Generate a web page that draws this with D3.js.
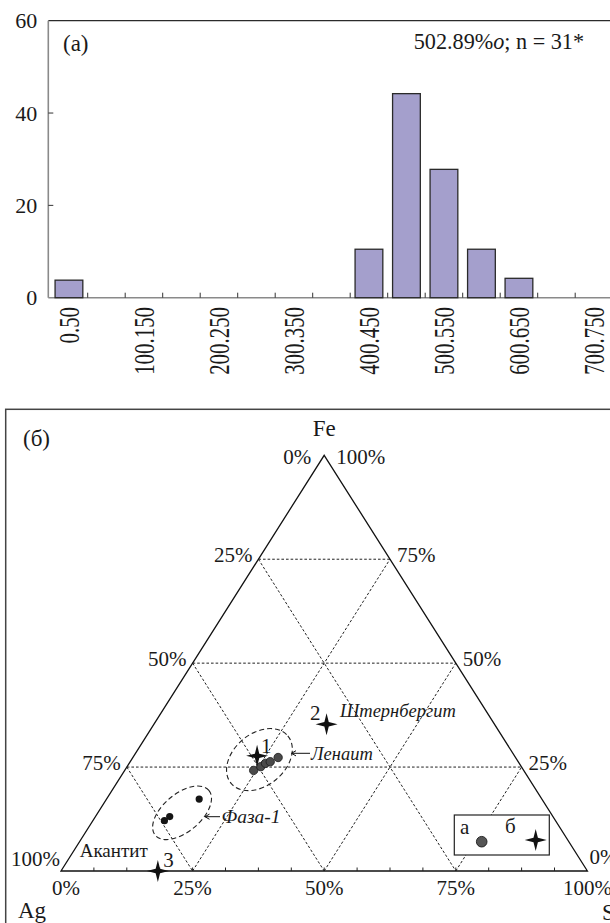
<!DOCTYPE html>
<html>
<head>
<meta charset="utf-8">
<script src="https://cdn.jsdelivr.net/npm/d3@7"></script>
<style>
  body { margin: 0; background: #fff; }
  svg { display: block; }
</style>
</head>
<body>
<svg id="fig" width="610" height="923" font-family="Liberation Serif"></svg>
<script>
// ---------- histogram (a): distribution of values, % of analyses ----------
const binStarts = [0, 50, 100, 150, 200, 250, 300, 350, 400, 450, 500, 550, 600, 650, 700];
const binLabels = binStarts.map(b => `${b}.${b + 50}`);
const binPercent = [3.8, 0, 0, 0, 0, 0, 0, 0, 10.5, 44.2, 27.8, 10.5, 4.2, 0, 0];
const yTicks = [0, 20, 40, 60];
const shownLabels = binLabels.filter((d, i) => i % 2 === 0);
const histNote = ["502.89%", "o", "; n = 31*"];

// ---------- ternary diagram (б): Ag – Fe – S ----------
const sideTicks = [0.25, 0.5, 0.75];
const refMinerals = [           // stars: reference compositions
  { num: "1", ag: 48.9, fe: 27.7, s: 23.4 },
  { num: "2", ag: 31.9, fe: 35.3, s: 32.8 },
  { num: "3", ag: 81.6, fe: 0.0,  s: 18.4 }
];
const lenaitePoints = [
  { ag: 51.3, fe: 24.2, s: 24.5 },
  { ag: 49.5, fe: 25.1, s: 25.4 },
  { ag: 48.2, fe: 25.9, s: 25.9 },
  { ag: 47.1, fe: 26.3, s: 26.6 },
  { ag: 45.1, fe: 27.3, s: 27.6 }
];
const phase1Points = [
  { ag: 65.1, fe: 17.3, s: 17.6 },
  { ag: 72.8, fe: 13.1, s: 14.1 },
  { ag: 74.3, fe: 12.1, s: 13.6 }
];
const groupOutlines = [
  { name: "Ленаит", ag: 48.9, fe: 26.8, s: 24.3, rx: 37, ry: 26, rot: -40 },
  { name: "Фаза-1", ag: 70.0, fe: 14.0, s: 16.0, rx: 35, ry: 19, rot: -40 }
];

const svg = d3.select("#fig");
const ink = "#1a1a1a";
const serif = "Liberation Serif";

// ======================= (a) =======================
const gA = svg.append("g");
const x = d3.scaleBand().domain(binLabels).range([50.2, 50.2 + 37.5 * binLabels.length])
  .paddingInner(0.26).paddingOuter(0.13);
const y = d3.scaleLinear().domain([0, 60]).range([297.7, 20.7]);
const axisX0 = 48.3;

gA.append("line").attr("x1", axisX0).attr("x2", 640).attr("y1", y(60)).attr("y2", y(60))
  .attr("stroke", "#2b2b2b").attr("stroke-width", 1.3);
gA.append("line").attr("x1", axisX0).attr("x2", axisX0).attr("y1", y(60)).attr("y2", y(0))
  .attr("stroke", "#8a8a8a").attr("stroke-width", 1.6);
gA.append("line").attr("x1", axisX0).attr("x2", 640).attr("y1", y(0)).attr("y2", y(0))
  .attr("stroke", "#8a8a8a").attr("stroke-width", 1.6);

// y axis labels
const yAxis = gA.append("g").attr("transform", `translate(${axisX0},0)`)
  .call(d3.axisLeft(y).tickValues(yTicks).tickSize(0).tickPadding(11).tickFormat(d3.format("d")));
yAxis.attr("font-family", serif).attr("font-size", 22);
yAxis.select(".domain").remove();
yAxis.selectAll("text").attr("font-size", 22).attr("fill", ink);
gA.selectAll(".ytick").data(yTicks.filter(d => d > 0 && d < 60)).join("line")
  .attr("x1", axisX0).attr("x2", axisX0 + 5).attr("y1", d => y(d)).attr("y2", d => y(d))
  .attr("stroke", "#333").attr("stroke-width", 1);

// bin boundary ticks
const step = x.step();
const boundaries = binLabels.slice(0, -1).map(d => x(d) + x.bandwidth() + (step - x.bandwidth()) / 2);
gA.selectAll(".xtick").data(boundaries).join("line")
  .attr("x1", d => d).attr("x2", d => d).attr("y1", y(0)).attr("y2", y(0) - 5)
  .attr("stroke", "#333").attr("stroke-width", 1);

// bars
gA.selectAll("rect.bar").data(binLabels.map((l, i) => ({ l, v: binPercent[i] })).filter(d => d.v > 0))
  .join("rect").attr("class", "bar")
  .attr("x", d => x(d.l)).attr("width", x.bandwidth())
  .attr("y", d => y(d.v)).attr("height", d => y(0) - y(d.v))
  .attr("fill", "#a49fcc").attr("stroke", "#2a2a2a").attr("stroke-width", 1.3);

// rotated category labels
gA.selectAll("text.xl").data(shownLabels).join("text").attr("class", "xl")
  .attr("transform", d => `translate(${x(d) + x.bandwidth() / 2},307) rotate(-90) scale(0.72,1)`)
  .attr("text-anchor", "end").attr("dy", "0.35em").attr("font-size", 29).attr("fill", ink)
  .text(d => d);

// panel label and note
gA.append("text").attr("x", 63).attr("y", 51).attr("font-size", 23).attr("fill", ink).text("(a)");
const note = gA.append("text").attr("x", 584).attr("y", 49).attr("font-size", 22.2)
  .attr("text-anchor", "end").attr("fill", ink);
note.append("tspan").text(histNote[0]);
note.append("tspan").attr("font-style", "italic").text(histNote[1]);
note.append("tspan").text(histNote[2]);

// ======================= (б) =======================
const gB = svg.append("g");
gB.append("rect").attr("x", 5.7).attr("y", 409.3).attr("width", 700).attr("height", 600)
  .attr("fill", "none").attr("stroke", "#444").attr("stroke-width", 1.5);

// ternary mapping: Fe sets height, S (plus half of Fe) sets horizontal position
const tY = d3.scaleLinear().domain([0, 1]).range([871, 455.3]);
const tX = d3.scaleLinear().domain([0, 1]).range([61, 587.4]);
const pt = (ag, fe, s) => { const t = ag + fe + s; return [tX((s + fe / 2) / t), tY(fe / t)]; };

const A = pt(1, 0, 0), F = pt(0, 1, 0), S = pt(0, 0, 1);

// dashed grid
const gridLines = [];
sideTicks.forEach(v => {
  gridLines.push([pt(1 - v, v, 0), pt(0, v, 1 - v)]);   // constant Fe
  gridLines.push([pt(v, 1 - v, 0), pt(v, 0, 1 - v)]);   // constant Ag
  gridLines.push([pt(1 - v, 0, v), pt(0, 1 - v, v)]);   // constant S
});
gB.selectAll("line.grid").data(gridLines).join("line").attr("class", "grid")
  .attr("x1", d => d[0][0]).attr("y1", d => d[0][1]).attr("x2", d => d[1][0]).attr("y2", d => d[1][1])
  .attr("stroke", "#222").attr("stroke-width", 1).attr("stroke-dasharray", "2.6,2");

// triangle outline
gB.append("path").attr("d", d3.line()([F, S, A, F]) + "Z")
  .attr("fill", "none").attr("stroke", "#111").attr("stroke-width", 1.3);

// bottom ticks every 1/16
const bottomTicks = d3.range(1, 16).map(k => k / 16);
gB.selectAll("line.bt").data(bottomTicks).join("line").attr("class", "bt")
  .attr("x1", d => pt(1 - d, 0, d)[0]).attr("x2", d => pt(1 - d, 0, d)[0])
  .attr("y1", A[1]).attr("y2", A[1] - 3.5).attr("stroke", "#222").attr("stroke-width", 1);

// side labels
const fs = 21;
const lab = (xx, yy, t, anchor, size) => gB.append("text").attr("x", xx).attr("y", yy)
  .attr("text-anchor", anchor).attr("font-size", size || fs).attr("fill", ink).text(t);
const pct = d3.format(".0%");
lab(F[0] - 13, F[1] + 9, "0%", "end");
sideTicks.forEach(v => { const p = pt(v, 1 - v, 0); lab(p[0] - 6, p[1] + 3, pct(v), "end"); });
lab(A[0] - 1, A[1] - 5, "100%", "end");
lab(F[0] + 12, F[1] + 9, "100%", "start");
sideTicks.forEach(v => { const p = pt(0, v, 1 - v); lab(p[0] + 7, p[1] + 3, pct(v), "start"); });
lab(S[0] + 2, S[1] - 7, "0%", "start");
[0, 0.25, 0.5, 0.75, 1].forEach(v => { const p = pt(1 - v, 0, v); lab(p[0] + (v === 0 ? 5 : 0), 895, pct(v), "middle"); });

// corner names
lab(F[0], 436, "Fe", "middle", 23);
lab(18, 918, "Ag", "start", 23);
lab(602, 920, "S", "start", 23);
lab(23, 446, "(б)", "start", 23);

// four-point star symbol
const star = {
  draw(ctx, size) {
    const r = Math.sqrt(size) / 2, w = r * 0.2;
    ctx.moveTo(0, -r);
    ctx.lineTo(w, -w); ctx.lineTo(r, 0); ctx.lineTo(w, w); ctx.lineTo(0, r);
    ctx.lineTo(-w, w); ctx.lineTo(-r, 0); ctx.lineTo(-w, -w);
    ctx.closePath();
  }
};
const starPath = d3.symbol().type(star).size(22 * 22)();

// group outlines
gB.selectAll("ellipse").data(groupOutlines).join("ellipse")
  .attr("transform", d => { const p = pt(d.ag, d.fe, d.s); return `translate(${p[0]},${p[1]}) rotate(${d.rot})`; })
  .attr("rx", d => d.rx).attr("ry", d => d.ry)
  .attr("fill", "none").attr("stroke", "#222").attr("stroke-width", 1.1).attr("stroke-dasharray", "5,3");

// analyses
gB.selectAll("circle.len").data(lenaitePoints).join("circle").attr("class", "len")
  .attr("cx", d => pt(d.ag, d.fe, d.s)[0]).attr("cy", d => pt(d.ag, d.fe, d.s)[1]).attr("r", 4.2)
  .attr("fill", "#4a4a4a").attr("stroke", "#1a1a1a").attr("stroke-width", 0.8);
gB.selectAll("circle.ph").data(phase1Points).join("circle").attr("class", "ph")
  .attr("cx", d => pt(d.ag, d.fe, d.s)[0]).attr("cy", d => pt(d.ag, d.fe, d.s)[1]).attr("r", 3.6)
  .attr("fill", "#151515");

// reference minerals
gB.selectAll("path.star").data(refMinerals).join("path").attr("class", "star")
  .attr("transform", d => { const p = pt(d.ag, d.fe, d.s); return `translate(${p[0]},${p[1]})`; })
  .attr("d", starPath).attr("fill", "#111");
const numOffsets = { "1": [4, -3, "start"], "2": [-6, -4, "end"], "3": [5.5, -4, "start"] };
gB.selectAll("text.num").data(refMinerals).join("text").attr("class", "num")
  .attr("x", d => pt(d.ag, d.fe, d.s)[0] + numOffsets[d.num][0])
  .attr("y", d => pt(d.ag, d.fe, d.s)[1] + numOffsets[d.num][1])
  .attr("text-anchor", d => numOffsets[d.num][2]).attr("font-size", 21).attr("fill", ink).text(d => d.num);

// names and pointers
const arrow = (x0, x1, yy) => gB.append("path")
  .attr("d", `M${x1},${yy}L${x0},${yy}M${x0 + 4.5},${yy - 2.6}L${x0},${yy}L${x0 + 4.5},${yy + 2.6}`)
  .attr("fill", "none").attr("stroke", "#111").attr("stroke-width", 1);
lab(340, 716.5, "Штернбергит", "start", 18.5).attr("font-style", "italic");
arrow(291.5, 310, 753.3);
lab(311, 759.5, "Ленаит", "start", 18.5).attr("font-style", "italic");
arrow(205, 220, 816.7);
lab(221.5, 822.5, "Фаза-1", "start", 19.5).attr("font-style", "italic");
lab(79.7, 856.5, "Акантит", "start", 19);

// legend
gB.append("rect").attr("x", 454.3).attr("y", 815).attr("width", 95).attr("height", 40)
  .attr("fill", "#fff").attr("stroke", "#222").attr("stroke-width", 1.2);
lab(460, 833.5, "а", "start", 21);
gB.append("circle").attr("cx", 481.7).attr("cy", 841.7).attr("r", 5.3)
  .attr("fill", "#555").attr("stroke", "#1a1a1a").attr("stroke-width", 0.9);
lab(505, 833, "б", "start", 21);
gB.append("path").attr("transform", "translate(535.7,840)").attr("d", starPath).attr("fill", "#111");

// typeface for every label
svg.selectAll("text").attr("font-family", serif).style("font-family", `'${serif}'`);
</script>
</body>
</html>
